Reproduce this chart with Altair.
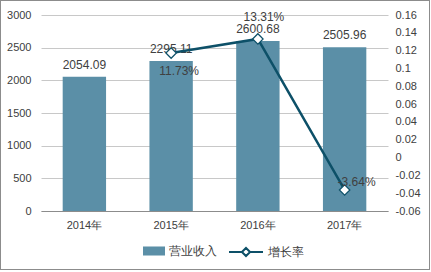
import altair as alt
import pandas as pd

years = ["2014年", "2015年", "2016年", "2017年"]
revenue = [2054.09, 2295.11, 2600.68, 2505.96]
growth_years = ["2015年", "2016年", "2017年"]
growth = [0.1173, 0.1331, -0.0364]
growth_labels = ["11.73%", "13.31%", "-3.64%"]
left_ticks = [0, 500, 1000, 1500, 2000, 2500, 3000]
right_ticks = [-0.06, -0.04, -0.02, 0, 0.02, 0.04, 0.06, 0.08, 0.1, 0.12, 0.14, 0.16]
bar_name = "营业收入"
line_name = "增长率"

BAR_COLOR = "#5b8fa7"
LINE_COLOR = "#0d5068"
TEXT = "#404040"
FONT = "Liberation Sans"

bar_df = pd.DataFrame({"year": years, "revenue": revenue, "series": [bar_name] * len(years)})
line_df = pd.DataFrame({"year": growth_years, "growth": growth, "label": growth_labels,
                        "series": [line_name] * len(growth_years)})

x_enc = alt.X("year:N", sort=years,
              scale=alt.Scale(domain=years, paddingInner=0.5, paddingOuter=0.25),
              axis=alt.Axis(title=None, labelAngle=0, ticks=False, domain=True,
                            domainColor="#8c8c8c", labelPadding=8, labelFontSize=11,
                            labelColor=TEXT, labelFont=FONT, grid=False))

y_left = alt.Y("revenue:Q", scale=alt.Scale(domain=[0, 3000], nice=False, zero=True),
               axis=alt.Axis(title=None, values=left_ticks, ticks=False, domain=False,
                             grid=True, gridColor="#c8c8c8", labelPadding=10,
                             labelFontSize=11, labelColor=TEXT, labelFont=FONT,
                             labelOverlap=False, labelExpr="toString(datum.value)"))

y_right = alt.Y("growth:Q", scale=alt.Scale(domain=[-0.06, 0.16], nice=False, zero=False),
                axis=alt.Axis(title=None, orient="right", values=right_ticks, ticks=False,
                              domain=False, grid=False, labelPadding=7, labelFontSize=11,
                              labelColor=TEXT, labelFont=FONT, labelOverlap=False,
                              labelExpr="toString(round(datum.value*100)/100)"))

bars = alt.Chart(bar_df).mark_bar(color=BAR_COLOR).encode(
    x=x_enc, y=y_left,
    color=alt.Color("series:N", scale=alt.Scale(domain=[bar_name], range=[BAR_COLOR]),
                    legend=alt.Legend(title=None, orient="none", legendX=102, legendY=225,
                                      symbolType="M-1,-0.41H1V0.41H-1Z", symbolSize=484,
                                      symbolStrokeWidth=0, labelFontSize=12, labelColor=TEXT,
                                      labelFont=FONT, padding=0, labelOffset=4)))

bar_text = alt.Chart(bar_df).mark_text(dy=-12, fontSize=12, color=TEXT, font=FONT).encode(
    x=x_enc, y=y_left, text=alt.Text("revenue:Q", format=".2f"))

left = alt.layer(bars, bar_text)

line = alt.Chart(line_df).mark_line(strokeWidth=2.5).encode(
    x=x_enc, y=y_right,
    stroke=alt.Stroke("series:N", scale=alt.Scale(domain=[line_name], range=[LINE_COLOR]),
                      legend=alt.Legend(title=None, orient="none", legendX=187, legendY=219,
                                        symbolType="M-1,0H-0.24M0.24,0H1M-0.24,0L0,-0.24L0.24,0L0,0.24Z",
                                        symbolSize=1156, symbolStrokeWidth=2,
                                        symbolFillColor="white", symbolStrokeColor=LINE_COLOR,
                                        labelFontSize=12, labelColor=TEXT, labelFont=FONT,
                                        padding=0, labelOffset=4)))

points = alt.Chart(line_df).mark_point(shape="diamond", filled=True, fill="white",
                                       stroke=LINE_COLOR, strokeWidth=1.2, size=110, opacity=1).encode(
    x=x_enc, y=y_right)

def glabel(yr, dx, dy):
    return alt.Chart(line_df).transform_filter(alt.datum.year == yr).mark_text(
        dx=dx, dy=dy, fontSize=12, color=TEXT, font=FONT).encode(
        x=x_enc, y=y_right, text="label:N")

right = alt.layer(line, points,
                  glabel("2015年", 8, 18),
                  glabel("2016年", 6, -22),
                  glabel("2017年", 12, -8))

border = alt.Chart(bar_df).mark_rect(fill=None, stroke="#8c8c8c", strokeWidth=1).encode(
    x=alt.value(-40.5), x2=alt.value(388.5), y=alt.value(-14.5), y2=alt.value(254.5))

chart = alt.layer(left, right, border).resolve_scale(y="independent", color="independent").properties(
    width=347, height=196,
    autosize=alt.AutoSizeParams(type="none"),
    padding={"left": 41, "top": 15, "right": 43, "bottom": 61},
    background="white"
).configure_view(stroke=None)

chart.save("out.html", embed_options={"renderer": "svg", "actions": False})
